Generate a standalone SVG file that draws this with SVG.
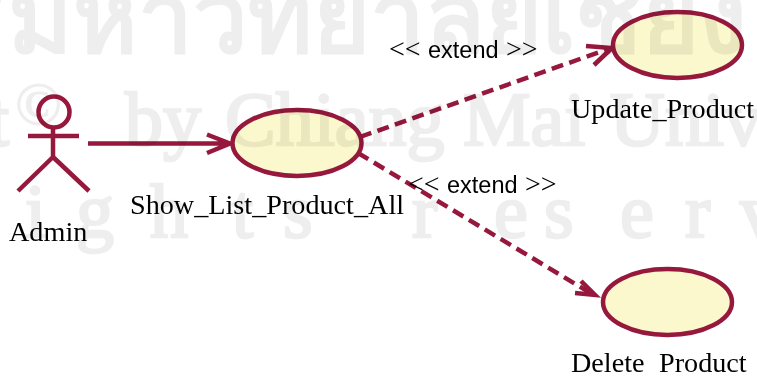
<svg xmlns="http://www.w3.org/2000/svg" width="757" height="376" viewBox="0 0 757 376">
<style>
.wm{font-family:"Liberation Serif",serif;fill:#eeeeee}
#watermark{mix-blend-mode:multiply}
.th{font-family:"Noto Sans CJK SC","Noto Sans","Liberation Serif",serif;font-size:98px;font-weight:bold}
.rough{stroke:#eeeeee;stroke-width:2.500;font-size:76px}
.lbl{font-family:"Liberation Serif",serif;font-size:28.200px;fill:#000}
.ext{font-family:"Liberation Sans",sans-serif;font-size:23.500px;fill:#000}
.chev{font-family:"Liberation Serif",serif;font-size:28px}
.uc{fill:#fbf8cd;stroke:#96183c;stroke-width:4.500}
.ln{fill:none;stroke:#96183c;stroke-width:4.500}
.dash{stroke-dasharray:12 6.500}
</style>
<rect width="757" height="376" fill="#fff"/>
<g id="connectors">
<path class="ln" d="M88 143.500H230M207 134.500L230 143.500L207 153"/>
<path class="ln dash" d="M360 137L608 49"/>
<path class="ln" d="M586 46L612 48L594 65"/>
<path class="ln dash" d="M358 153L592 294"/>
<path class="ln" d="M575 293L595 295L581 281"/>
</g>
<g id="admin">
<circle class="ln" cx="54" cy="112" r="15.500"/>
<path class="ln" d="M28 136H79M53 128V157M53 157L18 191M53 157L89 191"/>
<text class="lbl" x="9" y="241">Admin</text>
</g>
<g id="show_list">
<ellipse class="uc" cx="297" cy="143" rx="64.500" ry="33"/>
<text class="lbl" x="130" y="214">Show_List_Product_All</text>
</g>
<g id="update">
<ellipse class="uc" cx="677.500" cy="45" rx="64.500" ry="33"/>
<text class="lbl" x="571" y="118">Update_Product</text>
</g>
<g id="delete">
<ellipse class="uc" cx="667.500" cy="302" rx="64.500" ry="33"/>
<text class="lbl" x="571" y="372">Delete<tspan x="659">Product</tspan></text>
</g>
<text class="ext" y="58"><tspan class="chev" x="389">&lt;&lt;</tspan><tspan x="428">extend</tspan><tspan class="chev" x="506">&gt;&gt;</tspan></text>
<text class="ext" y="193"><tspan class="chev" x="408">&lt;&lt;</tspan><tspan x="447">extend</tspan><tspan class="chev" x="525">&gt;&gt;</tspan></text>
<g id="watermark">
<text class="wm th" x="-52" y="52">ธมหาวิทยาลัยเชียงใหม่</text>
<text class="wm rough" y="145"><tspan x="-12">t</tspan><tspan x="15" y="124" font-size="62" stroke-width="1">©</tspan><tspan x="125" y="145">by</tspan><tspan x="225">Chiang</tspan><tspan x="463">Mai</tspan><tspan x="610">Univ</tspan></text>
<text class="wm rough" y="237" x="25 76 150 232 283 412 494 544 620 685 740">ightsreserv</text>
</g>
</svg>
